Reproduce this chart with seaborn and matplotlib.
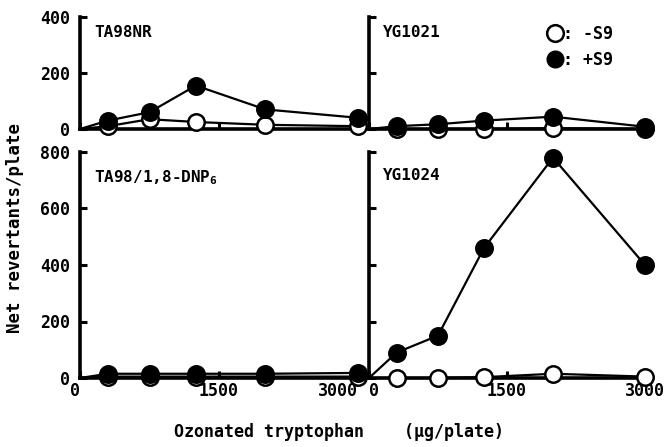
import matplotlib
matplotlib.use("Agg")
import matplotlib.pyplot as plt
import pandas as pd
import seaborn as sns
from matplotlib.lines import Line2D

# doses of ozonated tryptophan (ug/plate); 0 is the origin the lines start from
DOSES = [0, 300, 750, 1250, 2000, 3000]

TA98NR_MINUS = [0, 10, 35, 25, 15, 10]
TA98NR_PLUS = [0, 30, 60, 155, 70, 40]
YG1021_MINUS = [0, 0, 0, 0, 3, 0]
YG1021_PLUS = [0, 10, 17, 30, 44, 8]
DNP_MINUS = [0, 5, 5, 5, 5, 5]
DNP_PLUS = [0, 15, 15, 15, 15, 18]
YG1024_MINUS = [0, 0, 0, 3, 15, 5]
YG1024_PLUS = [0, 90, 150, 460, 780, 400]

PANELS = [
    ("TA98NR", TA98NR_MINUS, TA98NR_PLUS),
    ("YG1021", YG1021_MINUS, YG1021_PLUS),
    ("TA98/1,8-DNP$_{6}$", DNP_MINUS, DNP_PLUS),
    ("YG1024", YG1024_MINUS, YG1024_PLUS),
]

sns.set_style("ticks", rc={
    "axes.edgecolor": "black", "text.color": "black",
    "xtick.color": "black", "ytick.color": "black",
    "axes.labelcolor": "black",
})
plt.rcParams["font.family"] = ["DejaVu Sans Mono"]
plt.rcParams["font.weight"] = "bold"
plt.rcParams["mathtext.fontset"] = "custom"
plt.rcParams["mathtext.rm"] = "DejaVu Sans Mono:bold"
plt.rcParams["mathtext.default"] = "rm"

fig = plt.figure(figsize=(6.65, 4.47), dpi=100)
W, H = 665, 447


def px_axes(x0, x1, y0, y1):
    return fig.add_axes([x0 / W, 1 - y1 / H, (x1 - x0) / W, (y1 - y0) / H])


axes = [
    px_axes(80, 358, 17, 129),
    px_axes(369, 645, 17, 129),
    px_axes(80, 358, 152, 378),
    px_axes(369, 645, 152, 378),
]

for i, (ax, (name, minus, plus)) in enumerate(zip(axes, PANELS)):
    df = pd.DataFrame({"dose": DOSES, "minus": minus, "plus": plus})
    pts = df[df["dose"] > 0]
    for col, fc in [("minus", "white"), ("plus", "black")]:
        sns.lineplot(data=df, x="dose", y=col, ax=ax, color="black",
                     linewidth=1.6, clip_on=False, zorder=2)
        sns.scatterplot(data=pts, x="dose", y=col, ax=ax, s=140,
                        facecolor=fc, edgecolor="black", linewidth=1.8,
                        clip_on=False, zorder=3 if fc == "white" else 4)
    top = 400 if i < 2 else 800
    ax.set_xlim(0, 3000)
    ax.set_ylim(0, top)
    ax.set_yticks(range(0, top + 1, 200))
    ax.set_xticks([0, 1500, 3000])
    ax.set_xlabel("")
    ax.set_ylabel("")
    for s in ["top", "right"]:
        ax.spines[s].set_visible(False)
    for s in ["left", "bottom"]:
        ax.spines[s].set_linewidth(2.6)
    ax.tick_params(direction="in", length=5, width=2.2, labelsize=12, pad=7)
    ax.tick_params(axis="x", pad=3)
    if i % 2 == 1:
        ax.set_yticklabels([])
    if i < 2:
        ax.set_xticklabels([])
    ax.text(0.05, 0.93, name, transform=ax.transAxes, fontsize=11.5,
            fontweight="bold", va="top", ha="left")

lbl = axes[2].get_xticklabels()
lbl[0].set_ha("right")
lbl[2].set_ha("right")
lbl = axes[3].get_xticklabels()
lbl[0].set_ha("left")

handles = [
    Line2D([], [], ls="", marker="o", ms=12, mfc="white", mec="black",
           mew=1.8, label=": -S9"),
    Line2D([], [], ls="", marker="o", ms=12, mfc="black", mec="black",
           label=": +S9"),
]
axes[1].legend(handles=handles, loc="upper right", frameon=False,
               handletextpad=0.0, handlelength=1.0, labelspacing=0.45,
               prop={"size": 12, "weight": "bold"},
               bbox_to_anchor=(0.94, 1.06))

fig.text(0.022, 0.49, "Net revertants/plate", rotation=90, fontsize=12.5,
         fontweight="bold", ha="center", va="center")
fig.text(0.51, 0.034, "Ozonated tryptophan    (\u00b5g/plate)", fontsize=12,
         fontweight="bold", ha="center", va="center")

fig.savefig("out.png", dpi=100)
